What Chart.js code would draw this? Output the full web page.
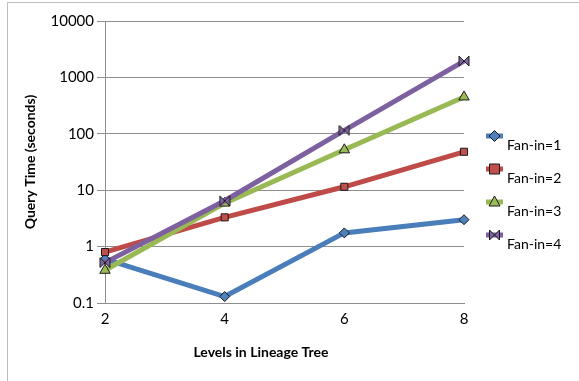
<!DOCTYPE html>
<html>
<head>
<meta charset="utf-8">
<script src="https://cdn.jsdelivr.net/npm/chart.js@4/dist/chart.umd.min.js"></script>
<style>
  html, body { margin: 0; padding: 0; background: #fff; }
  #wrap { position: relative; width: 579px; height: 381px; overflow: hidden; }
  #frame {
    position: absolute; left: 7px; top: 2px; width: 600px; height: 400px;
    border-top: 1px solid #bdbdbd; border-left: 1px solid #bdbdbd;
  }
  canvas { position: absolute; left: 0; top: 0; }
</style>
</head>
<body>
<div id="wrap">
  <div id="frame"></div>
  <canvas id="chart" width="579" height="381"></canvas>
</div>
<script>
/* ============ DATA ============ */
const levels = ['2', '4', '6', '8'];
const seriesNames = ['Fan-in=1', 'Fan-in=2', 'Fan-in=3', 'Fan-in=4'];
const fanIn1 = [0.6, 0.13, 1.75, 3.0];
const fanIn2 = [0.8, 3.3, 11.5, 48];
const fanIn3 = [0.38, 5.9, 52, 450];
const fanIn4 = [0.52, 6.5, 115, 1950];
const yTicks = [0.1, 1, 10, 100, 1000, 10000];
const xTitle = 'Levels in Lineage Tree';
const yTitle = 'Query Time (seconds)';

/* ============ STYLE ============ */
const FONT = "Lato, 'Open Sans', sans-serif";
const lineColors = ['#4a7ebb', '#be4b48', '#98b954', '#7d60a0'];
const fillColors = ['#4f81bd', '#c0504d', '#9bbb59', '#8064a2'];
const edge = '#1a1a1a';
const gridColor = '#8e8e8e';

// bowtie marker for Fan-in=4
function drawBowtie(ctx, cx, cy, s) {
  ctx.beginPath();
  ctx.moveTo(cx - s, cy - s);
  ctx.lineTo(cx + s, cy + s);
  ctx.lineTo(cx + s, cy - s);
  ctx.lineTo(cx - s, cy + s);
  ctx.closePath();
  ctx.fillStyle = fillColors[3];
  ctx.fill();
  ctx.lineWidth = 1;
  ctx.strokeStyle = edge;
  ctx.stroke();
}

const bowtie = document.createElement('canvas');
bowtie.width = 12;
bowtie.height = 12;
drawBowtie(bowtie.getContext('2d'), 6, 6, 5);

const pointStyles = ['rectRot', 'rect', 'triangle', bowtie];
const pointRadii = [5, 5, 6, 5];

// legend: line segment + marker, text set lower-right like Excel
// also the x title, which Excel puts left of the plot centre
const extrasPlugin = {
  id: 'extras',
  afterDraw(chart) {
    const ctx = chart.ctx;
    const x0 = 486, x1 = 503;
    const ys = [136, 169, 202, 235];
    ctx.save();
    ys.forEach((y, i) => {
      ctx.fillStyle = lineColors[i];
      ctx.fillRect(x0, y - 2.5, x1 - x0, 5);
      const cx = (x0 + x1) / 2;
      if (i === 3) {
        drawBowtie(ctx, cx, y, 5);
      } else {
        ctx.beginPath();
        if (i === 0) {
          ctx.moveTo(cx, y - 5.5); ctx.lineTo(cx + 5.5, y);
          ctx.lineTo(cx, y + 5.5); ctx.lineTo(cx - 5.5, y);
        } else if (i === 1) {
          ctx.rect(cx - 5, y - 5, 10, 10);
        } else {
          ctx.moveTo(cx, y - 6); ctx.lineTo(cx + 5.5, y + 4);
          ctx.lineTo(cx - 5.5, y + 4);
        }
        ctx.closePath();
        ctx.fillStyle = fillColors[i];
        ctx.fill();
        ctx.lineWidth = 1;
        ctx.strokeStyle = edge;
        ctx.stroke();
      }
      ctx.fillStyle = '#000';
      ctx.font = '14px ' + FONT;
      ctx.textBaseline = 'middle';
      ctx.textAlign = 'left';
      ctx.fillText(seriesNames[i], 507, y + 9);
    });

    ctx.font = 'bold 14px ' + FONT;
    ctx.textAlign = 'center';
    ctx.textBaseline = 'middle';
    ctx.fillText(xTitle, 261, 352);
    ctx.restore();
  },
};

const seriesData = [fanIn1, fanIn2, fanIn3, fanIn4];

new Chart(document.getElementById('chart'), {
  type: 'line',
  data: {
    labels: levels,
    datasets: seriesData.map((d, i) => ({
      label: seriesNames[i],
      data: d,
      order: 4 - i,
      borderColor: lineColors[i],
      borderWidth: 5,
      tension: 0,
      fill: false,
      pointStyle: pointStyles[i],
      pointRadius: pointRadii[i],
      pointBackgroundColor: fillColors[i],
      pointBorderColor: edge,
      pointBorderWidth: 1,
    })),
  },
  options: {
    responsive: false,
    animation: false,
    layout: { padding: { left: 0, top: 21, right: 115, bottom: 8 } },
    plugins: {
      legend: { display: false },
      tooltip: { enabled: false },
    },
    scales: {
      x: {
        offset: false,
        grid: { display: false, drawTicks: false },
        border: { color: gridColor },
        ticks: { color: '#000', font: { family: FONT, size: 15 }, padding: 7 },
        afterFit: (s) => { s.height = 70; },
      },
      y: {
        type: 'logarithmic',
        min: yTicks[0],
        max: yTicks[yTicks.length - 1],
        afterBuildTicks: (s) => { s.ticks = yTicks.map((v) => ({ value: v })); },
        grid: { color: gridColor, tickLength: 8 },
        border: { color: gridColor },
        ticks: {
          color: '#000',
          font: { family: FONT, size: 15 },
          padding: 3,
          callback: (v) => String(v),
        },
        title: {
          display: true,
          text: yTitle,
          color: '#000',
          font: { family: FONT, size: 14, weight: 'bold' },
          padding: { top: 22, bottom: 0 },
        },
        afterFit: (s) => { s.width = 105; },
      },
    },
  },
  plugins: [extrasPlugin],
});
</script>
</body>
</html>
